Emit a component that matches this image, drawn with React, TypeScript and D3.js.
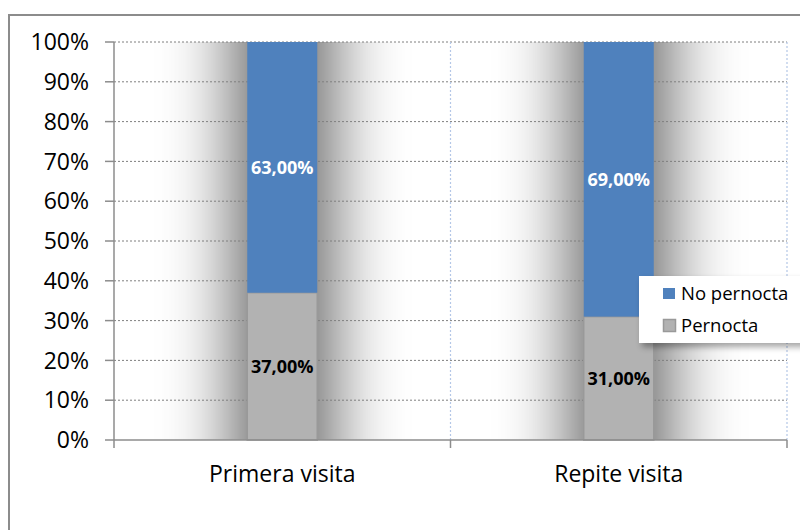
import React from 'react';
import * as d3 from 'd3';

const categories = ['Primera visita', 'Repite visita'];
const pernocta = [37, 31];
const noPernocta = [63, 69];
const yTicks = [0, 10, 20, 30, 40, 50, 60, 70, 80, 90, 100];
const seriesNames = ['No pernocta', 'Pernocta'];

const W = 800;
const H = 530;
const FONT = '"Open Sans", "Noto Sans", sans-serif';

const fmt = (v: number) => v.toFixed(2).replace('.', ',') + '%';

const App: React.FC = () => {
  const x0 = 114;
  const x1 = 787;
  const y = d3.scaleLinear().domain([0, 100]).range([440, 42]);
  const x = d3.scaleBand<string>().domain(categories).range([x0, x1]);
  const barW = 70;

  return (
    <div style={{ position: 'absolute', left: 0, top: 0 }}>
      <svg width={W} height={H} style={{ display: 'block', background: '#fff' }}>
        <defs>
          <filter id="shade" x="-200%" y="-5%" width="500%" height="110%">
            <feGaussianBlur stdDeviation="38 0" />
          </filter>
          <filter id="legShade" x="-20%" y="-20%" width="140%" height="160%">
            <feGaussianBlur stdDeviation="3" />
          </filter>
        </defs>
        <rect x={9} y={15} width={W} height={H} fill="#fff" stroke="#8c8c8c" strokeWidth={2} />

        {/* bar shadows */}
        {categories.map(c => {
          const cx = (x(c) ?? 0) + x.bandwidth() / 2;
          return (
            <rect key={c} x={cx - barW / 2 - 10} y={y(100)} width={barW + 22}
              height={y(0) - y(100)} fill="#000" opacity={0.66} filter="url(#shade)" />
          );
        })}

        {/* horizontal gridlines */}
        {yTicks.slice(1).map(t => (
          <line key={t} x1={x0} x2={x1} y1={y(t)} y2={y(t)} stroke="#7f7f7f"
            strokeWidth={1} strokeDasharray="2 2" />
        ))}
        {/* vertical gridlines */}
        {categories.map(c => {
          const gx = (x(c) ?? 0) + x.bandwidth();
          return (
            <line key={c} x1={gx} x2={gx} y1={y(100)} y2={y(0)} stroke="#b4c7e7"
              strokeWidth={1.2} strokeDasharray="2 2" />
          );
        })}

        {/* bars */}
        {categories.map((c, i) => {
          const cx = (x(c) ?? 0) + x.bandwidth() / 2;
          const bx = cx - barW / 2;
          return (
            <g key={c}>
              <rect x={bx} y={y(pernocta[i])} width={barW} height={y(0) - y(pernocta[i])}
                fill="#b2b2b2" stroke="#999" strokeWidth={1.5} />
              <rect x={bx} y={y(pernocta[i] + noPernocta[i])} width={barW}
                height={y(pernocta[i]) - y(pernocta[i] + noPernocta[i])} fill="#4f81bd" />
              <text x={cx} y={y(pernocta[i] + noPernocta[i] / 2)} dy="0.35em" textAnchor="middle"
                fontFamily={FONT} fontWeight="bold" fontSize={18} fill="#fff">{fmt(noPernocta[i])}</text>
              <text x={cx} y={y(pernocta[i] / 2)} dy="0.35em" textAnchor="middle"
                fontFamily={FONT} fontWeight="bold" fontSize={18} fill="#000">{fmt(pernocta[i])}</text>
            </g>
          );
        })}

        {/* y axis */}
        <line x1={x0} x2={x0} y1={y(100)} y2={y(0) + 8} stroke="#8c8c8c" strokeWidth={1.5} />
        {yTicks.map(t => (
          <g key={t}>
            <line x1={x0 - 9} x2={x0} y1={y(t)} y2={y(t)} stroke="#8c8c8c" strokeWidth={1.5} />
            <text x={89} y={y(t)} dy="0.36em" textAnchor="end" fontFamily={FONT}
              fontSize={23} fill="#000">{t}%</text>
          </g>
        ))}

        {/* x axis */}
        <line x1={x0} x2={x1} y1={y(0)} y2={y(0)} stroke="#8c8c8c" strokeWidth={1.5} />
        {categories.map(c => {
          const gx = (x(c) ?? 0) + x.bandwidth();
          return <line key={c} x1={gx} x2={gx} y1={y(0)} y2={y(0) + 8} stroke="#8c8c8c" strokeWidth={1.5} />;
        })}
        {categories.map(c => (
          <text key={c} x={(x(c) ?? 0) + x.bandwidth() / 2} y={474} dy="0.35em" textAnchor="middle"
            fontFamily={FONT} fontSize={23} fill="#000">{c}</text>
        ))}

        {/* legend */}
        <rect x={642} y={280} width={170} height={67} fill="#000" opacity={0.35} filter="url(#legShade)" />
        <rect x={639} y={276} width={170} height={67} fill="#fff" />
        <rect x={663} y={288} width={12} height={11} fill="#4f81bd" />
        <text x={681} y={294} dy="0.35em" fontFamily={FONT} fontSize={18.5} fill="#000">{seriesNames[0]}</text>
        <rect x={663.5} y={319.5} width={12} height={12} fill="#b2b2b2" stroke="#999" strokeWidth={1.5} />
        <text x={681} y={326} dy="0.35em" fontFamily={FONT} fontSize={18.5} fill="#000">{seriesNames[1]}</text>
      </svg>
    </div>
  );
};

export default App;
